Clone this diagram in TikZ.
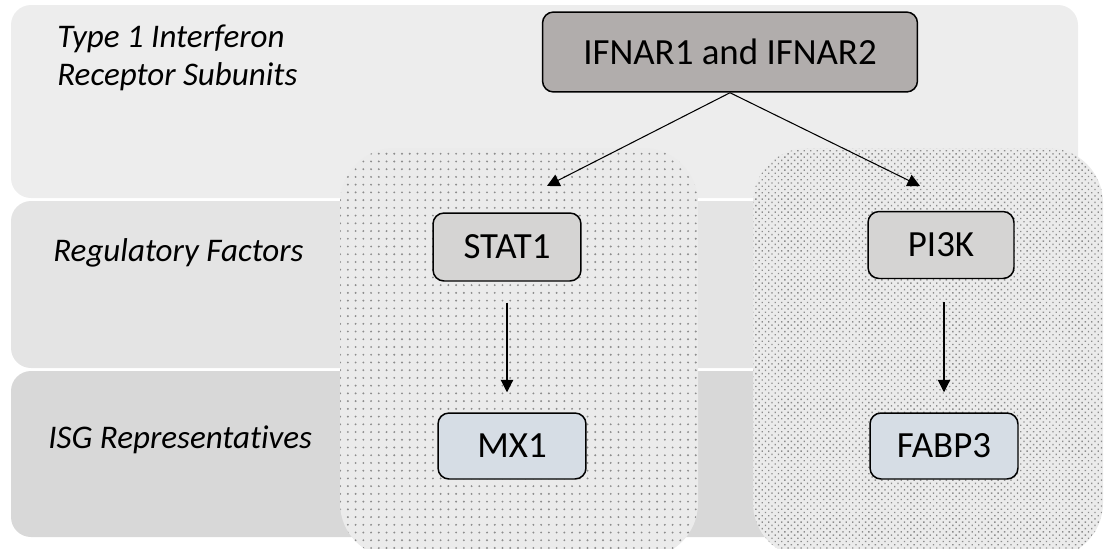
\documentclass[tikz,border=0pt]{standalone}
\usepackage{fontspec}
\setmainfont{Carlito}[Ligatures=NoCommon]
\usetikzlibrary{arrows.meta, positioning, patterns.meta}

\definecolor{bandA}{HTML}{EDEDED}
\definecolor{bandB}{HTML}{E4E4E4}
\definecolor{bandC}{HTML}{D8D8D8}
\definecolor{panelA}{HTML}{EBEBEB}
\definecolor{dotA}{HTML}{8C8C8C}
\definecolor{recepA}{HTML}{B1ADAC}
\definecolor{factA}{HTML}{D5D4D3}
\definecolor{isgA}{HTML}{D6DDE5}

\tikzset{
  band/.style={fill=#1, draw=none, rounded corners=0.4cm},
  panel/.style={
    preaction={fill=panelA}, pattern={Dots[#1]}, pattern color=dotA,
    rounded corners=1.1cm
  },
  gene/.style={
    draw=black, fill=#1, rounded corners=0.22cm, line width=0.85pt,
    inner sep=0pt, font=\fontsize{21}{25}\selectfont
  },
  tier/.style={anchor=west, align=left, inner sep=0pt, font=\fontsize{18.8}{21.8}\selectfont\itshape},
  arrow/.style={-{Triangle[length=0.25cm, width=0.25cm]}, line width=0.6pt}
}

\begin{document}
\begin{tikzpicture}[x=0.02cm, y=-0.02cm]
  \clip (0,0) rectangle (1105,548);

  % tier bands
  \fill[band=bandA] (11,5) rectangle (1078,198);
  \fill[band=bandB] (11,201) rectangle (1078,368);
  \fill[band=bandC] (11,371) rectangle (1078,537);

  % dotted pathway panels
  \path[panel={distance=4.4pt, radius=0.6pt}] (340,148) rectangle (698,558);
  \path[panel={distance=2.6pt, angle=45, radius=0.55pt}] (753,148) rectangle (1103,558);

  % tier labels
  \node[tier] (lblrec) at (57,58) {Type 1 Interferon\\Receptor Subunits};
  \node[tier] (lblreg) at (53,253) {Regulatory Factors};
  \node[tier] (lblisg) at (48,440) {ISG Representatives};

  % genes
  \node[gene=recepA, minimum width=7.5cm, minimum height=1.6cm] (ifnar) at (730,52) {IFNAR1 and IFNAR2};
  \node[gene=factA, minimum width=2.96cm, minimum height=1.36cm] (stat1) at (507,247) {STAT1};
  \node[gene=factA, minimum width=2.92cm, minimum height=1.34cm] (pi3k) at (941,245) {PI3K};
  \node[gene=isgA, minimum width=2.96cm, minimum height=1.32cm] (mx1) at (512,446) {MX1};
  \node[gene=isgA, minimum width=2.96cm, minimum height=1.32cm] (fabp3) at (944,446) {FABP3};

  \coordinate (tostat) at (547,186);
  \coordinate (topi) at (920,186);

  \draw[arrow] (ifnar.south) -- (tostat);
  \draw[arrow] (ifnar.south) -- (topi);
  \draw[arrow, shorten <=0.42cm, shorten >=0.4cm] (stat1.south) -- (stat1.south |- mx1.north);
  \draw[arrow, shorten <=0.46cm, shorten >=0.4cm] (fabp3.north |- pi3k.south) -- (fabp3.north);
\end{tikzpicture}
\end{document}
